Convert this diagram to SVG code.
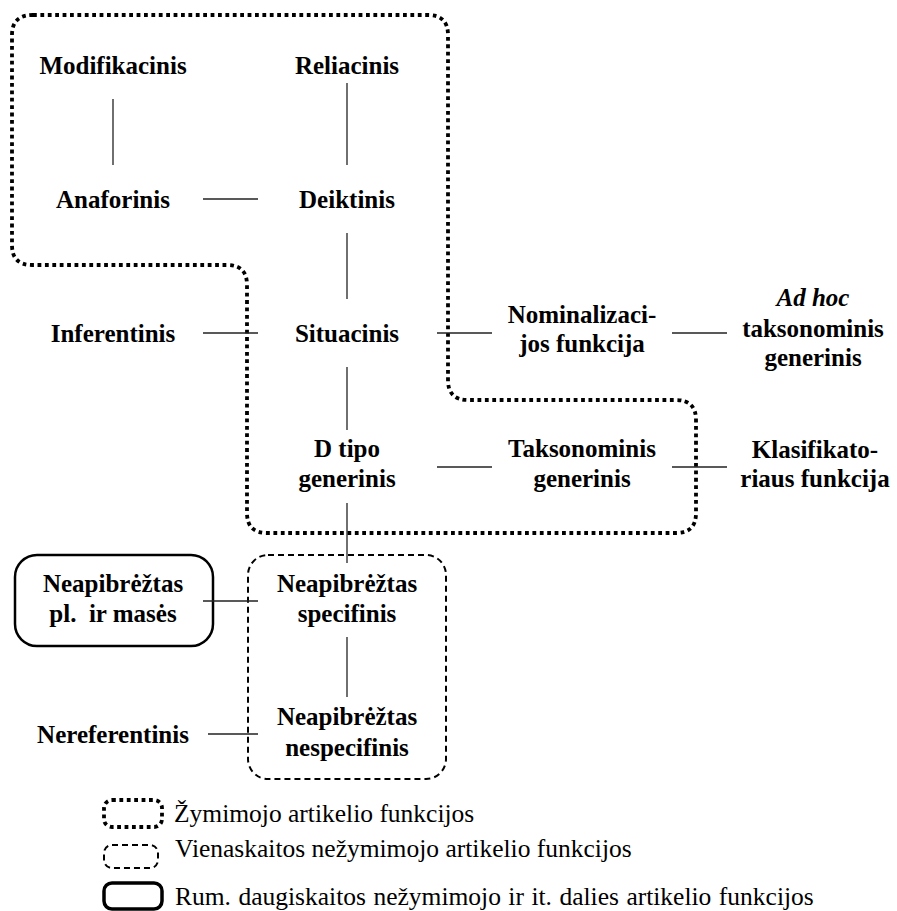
<svg xmlns="http://www.w3.org/2000/svg" width="897" height="911" viewBox="0 0 897 911">
  <style>
    text { font-family: "Liberation Serif", "Times New Roman", Times, "DejaVu Serif", serif; fill: #000; }
    .n { font-weight: bold; font-size: 25px; text-anchor: middle; }
    .it { font-style: italic; }
    .lg { font-weight: normal; font-size: 25.5px; }
    .c { stroke: #222; stroke-width: 1.3; fill: none; }
    .dot { fill: none; stroke: #000; stroke-width: 3.8; stroke-dasharray: 3.8 3.6; }
    .dash { fill: none; stroke: #000; stroke-width: 2; stroke-dasharray: 6 4; }
    .solid { fill: none; stroke: #000; stroke-width: 2.5; }
  </style>

  <!-- group outlines -->
  <g id="outlines">
    <path class="dot" d="M 33,15 H 428 Q 448,15 448,35 V 380 Q 448,400 468,400 H 676 Q 696,400 696,420 V 513 Q 696,533 676,533 H 267 Q 247,533 247,513 V 285 Q 247,265 227,265 H 32 Q 12,265 12,245 V 35 Q 12,15 33,15 Z"/>
    <rect class="dash" x="248" y="555" width="198" height="224" rx="20" ry="20"/>
    <rect class="solid" x="15" y="555" width="198" height="91" rx="22" ry="22"/>
  </g>

  <!-- connectors -->
  <g id="connectors">
    <line class="c" x1="113" y1="99" x2="113" y2="165"/>
    <line class="c" x1="347" y1="83" x2="347" y2="165"/>
    <line class="c" x1="203" y1="199" x2="258" y2="199"/>
    <line class="c" x1="347" y1="233" x2="347" y2="299"/>
    <line class="c" x1="203" y1="333" x2="258" y2="333"/>
    <line class="c" x1="437" y1="333" x2="492" y2="333"/>
    <line class="c" x1="672" y1="333" x2="727" y2="333"/>
    <line class="c" x1="347" y1="367" x2="347" y2="430"/>
    <line class="c" x1="437" y1="467" x2="492" y2="467"/>
    <line class="c" x1="672" y1="467" x2="727" y2="467"/>
    <line class="c" x1="347" y1="503" x2="347" y2="563"/>
    <line class="c" x1="203" y1="601" x2="258" y2="601"/>
    <line class="c" x1="347" y1="637" x2="347" y2="697"/>
    <line class="c" x1="208" y1="734" x2="258" y2="734"/>
  </g>

  <!-- nodes -->
  <g id="modifikacinis"><text class="n" x="113" y="74">Modifikacinis</text></g>
  <g id="reliacinis"><text class="n" x="347" y="74">Reliacinis</text></g>
  <g id="anaforinis"><text class="n" x="113" y="208">Anaforinis</text></g>
  <g id="deiktinis"><text class="n" x="347" y="208">Deiktinis</text></g>
  <g id="inferentinis"><text class="n" x="113" y="342">Inferentinis</text></g>
  <g id="situacinis"><text class="n" x="347" y="342">Situacinis</text></g>
  <g id="nominalizacijos"><text class="n" x="582" y="323">Nominalizaci-</text><text class="n" x="582" y="352">jos funkcija</text></g>
  <g id="adhoc"><text class="n it" x="813" y="306">Ad hoc</text><text class="n" x="813" y="337">taksonominis</text><text class="n" x="813" y="366">generinis</text></g>
  <g id="dtipo"><text class="n" x="347" y="457">D tipo</text><text class="n" x="347" y="487">generinis</text></g>
  <g id="taksonominis"><text class="n" x="582" y="457">Taksonominis</text><text class="n" x="582" y="487">generinis</text></g>
  <g id="klasifikatoriaus"><text class="n" x="815" y="458">Klasifikato-</text><text class="n" x="815" y="487">riaus funkcija</text></g>
  <g id="neapibreztas-pl"><text class="n" x="113" y="592">Neapibrėžtas</text><text class="n" x="113" y="622" xml:space="preserve">pl.  ir masės</text></g>
  <g id="neapibreztas-spec"><text class="n" x="347" y="592">Neapibrėžtas</text><text class="n" x="347" y="622">specifinis</text></g>
  <g id="nereferentinis"><text class="n" x="113" y="743">Nereferentinis</text></g>
  <g id="neapibreztas-nespec"><text class="n" x="347" y="725">Neapibrėžtas</text><text class="n" x="347" y="756">nespecifinis</text></g>

  <!-- legend -->
  <g id="legend">
    <rect class="dot" x="104" y="800" width="58" height="27" rx="8" ry="8"/>
    <text class="lg" x="174" y="822">Žymimojo artikelio funkcijos</text>
    <rect class="dash" x="104" y="845" width="54" height="23" rx="8" ry="8"/>
    <text class="lg" x="175" y="857">Vienaskaitos nežymimojo artikelio funkcijos</text>
    <rect class="solid" x="104" y="883" width="58" height="26" rx="8" ry="8" style="stroke-width:3.5"/>
    <text class="lg" x="175" y="905" word-spacing="1.1">Rum. daugiskaitos nežymimojo ir it. dalies artikelio funkcijos</text>
  </g>
</svg>
